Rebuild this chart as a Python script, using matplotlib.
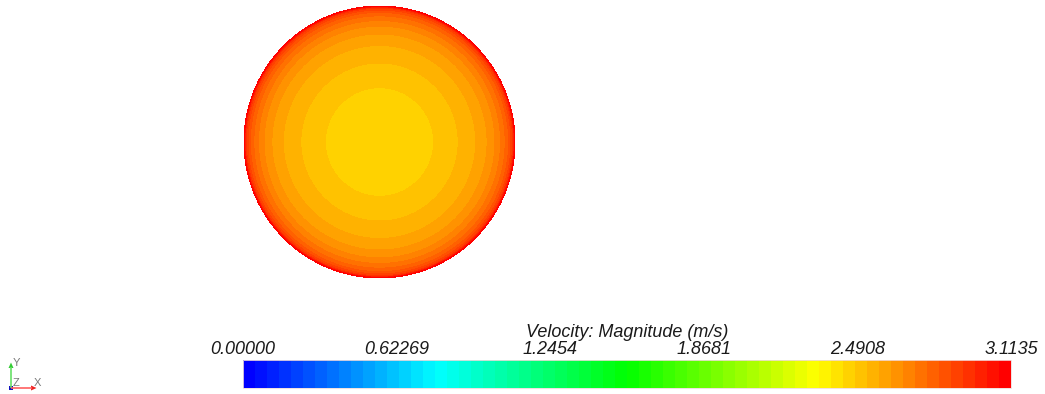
import numpy as np
import matplotlib
matplotlib.use("Agg")
import matplotlib.pyplot as plt
import matplotlib.tri as mtri
from matplotlib.colors import ListedColormap, BoundaryNorm, hsv_to_rgb
from matplotlib.colorbar import ColorbarBase

# Velocity magnitude range and colour table
v_min, v_max = 0.0, 3.1135
n_colors = 64
tick_values = [0.0, 0.62269, 1.2454, 1.8681, 2.4908, 3.1135]
tick_labels = ["0.00000", "0.62269", "1.2454", "1.8681", "2.4908", "3.1135"]
bar_title = "Velocity: Magnitude (m/s)"

# Radial velocity-magnitude profile across the pipe section (r / R -> |U|)
r_frac = [0.0, 0.37, 0.50, 0.66, 0.76, 0.828, 0.875, 0.912, 0.943, 0.963,
          0.978, 0.988, 0.993, 1.0]
v_mag = [2.450, 2.474, 2.505, 2.554, 2.603, 2.651, 2.700, 2.749, 2.797, 2.846,
         2.895, 2.943, 2.990, 3.090]

W, H = 1045, 394
fig = plt.figure(figsize=(W / 100, H / 100), dpi=100)
fig.patch.set_facecolor("white")


def px_axes(x0, y0, x1, y1):
    return fig.add_axes([x0 / W, 1 - y1 / H, (x1 - x0) / W, (y1 - y0) / H])


# Blue -> red rainbow, interpolated in HSV, discretised
hues = np.linspace(240.0, 0.0, n_colors) / 360.0
hsv = np.column_stack([hues, np.ones(n_colors), np.ones(n_colors)])
cmap = ListedColormap(hsv_to_rgb(hsv))
levels = np.linspace(v_min, v_max, n_colors + 1)
norm = BoundaryNorm(levels, cmap.N)

# Pipe cross-section
ax = px_axes(244, 6, 515, 278)
theta = np.linspace(0, 2 * np.pi, 360, endpoint=False)
xs, ys, vs = [0.0], [0.0], [v_mag[0]]
for r, v in zip(r_frac[1:], v_mag[1:]):
    xs.extend(r * np.cos(theta))
    ys.extend(r * np.sin(theta))
    vs.extend([v] * len(theta))
tri = mtri.Triangulation(np.array(xs), np.array(ys))
ax.tricontourf(tri, np.array(vs), levels=levels, cmap=cmap, norm=norm)
ax.set_xlim(-1, 1)
ax.set_ylim(-1, 1)
ax.axis("off")

# Colour legend
cax = px_axes(243, 360, 1011, 388)
cb = ColorbarBase(cax, cmap=cmap, norm=norm, orientation="horizontal",
                  boundaries=levels, ticks=tick_values)
cb.outline.set_edgecolor("#f0dada")
cb.outline.set_linewidth(0.6)
cax.minorticks_off()
cax.xaxis.set_ticks_position("top")
cax.xaxis.set_label_position("top")
cax.set_xticks(tick_values)
cax.set_xticks([], minor=True)
cax.set_xticklabels(tick_labels)
font = dict(family="Liberation Sans", style="italic", size=13, color="#1a1a1a")
for lab in cax.get_xticklabels():
    lab.set_fontfamily(font["family"])
    lab.set_fontstyle(font["style"])
    lab.set_fontsize(font["size"])
    lab.set_color(font["color"])
cax.tick_params(axis="x", which="both", length=0, pad=1.5)
cax.set_xlabel(bar_title, labelpad=3, **font)

# Orientation triad
tax = fig.add_axes([0, 0, 1, 1])
tax.set_xlim(0, W)
tax.set_ylim(H, 0)
tax.axis("off")
ox, oy = 11, 388
tax.plot([ox, ox], [oy, 367], color="#66e066", lw=1.2, solid_capstyle="butt")
tax.fill([ox - 2.5, ox + 2.5, ox], [368, 368, 362.5], color="#33cc33", lw=0)
tax.plot([ox, 32], [oy, oy], color="#ff6060", lw=1.2, solid_capstyle="butt")
tax.fill([31, 31, 36.5], [oy - 2.5, oy + 2.5, oy], color="#ee2222", lw=0)
tax.fill([ox - 2, ox + 2, ox + 2, ox - 2], [oy - 2, oy - 2, oy + 2, oy + 2],
         color="#1010c0", lw=0)
tfont = dict(family="Liberation Sans", size=8, color="#7a7a7a")
tax.text(12.5, 366, "Y", ha="left", va="baseline", **tfont)
tax.text(12.5, 386, "Z", ha="left", va="baseline", **tfont)
tax.text(33.5, 386, "X", ha="left", va="baseline", **tfont)

fig.savefig("out.png", dpi=100, facecolor="white")
